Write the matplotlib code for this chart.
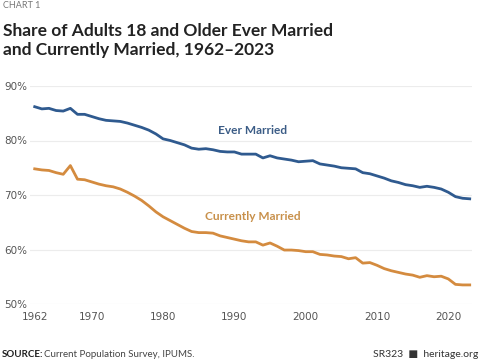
import matplotlib.pyplot as plt

years = list(range(1962, 2024))

ever_married = [
    86.2, 85.8, 85.9, 85.5, 85.4, 85.9, 84.8, 84.8, 84.4, 84.0,
    83.7, 83.6, 83.5, 83.2, 82.8, 82.4, 81.9, 81.2, 80.3, 80.0,
    79.6, 79.2, 78.6, 78.4, 78.5, 78.3, 78.0, 77.9, 77.9, 77.5,
    77.5, 77.5, 76.8, 77.2, 76.8, 76.6, 76.4, 76.1, 76.2, 76.3,
    75.7, 75.5, 75.3, 75.0, 74.9, 74.8, 74.1, 73.9, 73.5, 73.1,
    72.6, 72.3, 71.9, 71.7, 71.4, 71.6, 71.4, 71.1, 70.5, 69.7,
    69.4, 69.3,
]

currently_married = [
    74.8, 74.6, 74.5, 74.1, 73.8, 75.4, 72.9, 72.8, 72.4, 72.0,
    71.7, 71.5, 71.1, 70.5, 69.8, 69.0, 68.0, 66.9, 66.0, 65.3,
    64.6, 63.9, 63.3, 63.1, 63.1, 63.0, 62.5, 62.2, 61.9, 61.6,
    61.4, 61.4, 60.8, 61.2, 60.6, 59.9, 59.9, 59.8, 59.6, 59.6,
    59.1, 59.0, 58.8, 58.7, 58.3, 58.5, 57.5, 57.6, 57.1, 56.5,
    56.1, 55.8, 55.5, 55.3, 54.9, 55.2, 55.0, 55.1, 54.6, 53.6,
    53.5, 53.5,
]

x_ticks = [1962, 1970, 1980, 1990, 2000, 2010, 2020]
y_ticks = [50, 60, 70, 80, 90]

blue = "#2f5a8f"
orange = "#d48b3f"
fonts = ["Lato", "DejaVu Sans"]

W, H = 485, 360
fig = plt.figure(figsize=(W / 100, H / 100), dpi=100)
fig.patch.set_facecolor("white")

ax = fig.add_axes([30 / W, 1 - 304 / H, 442 / W, 218 / H])
ax.plot(years, ever_married, color=blue, lw=2.0, solid_joinstyle="round")
ax.plot(years, currently_married, color=orange, lw=2.0, solid_joinstyle="round")

ax.set_xlim(1961.34, 2023.32)
ax.set_ylim(50, 90)
ax.set_xticks(x_ticks)
ax.set_yticks(y_ticks)
ax.set_yticklabels([f"{v}%" for v in y_ticks])
ax.grid(axis="y", color="#ececec", lw=0.8)
ax.set_axisbelow(True)
for s in ax.spines.values():
    s.set_visible(False)
ax.tick_params(length=0, labelsize=7.5, labelcolor="#555555", pad=6)
for lab in ax.get_yticklabels():
    lab.set_horizontalalignment("left")
ax.tick_params(axis="y", pad=18.5)

ax.text(1992.6, 81.8, "Ever Married", color="#3b5c86", fontsize=8.6,
        fontweight="bold", ha="center", va="center", family=fonts)
ax.text(1992.6, 66.0, "Currently Married", color="#c8904a", fontsize=8.6,
        fontweight="bold", ha="center", va="center", family=fonts)

fig.text(3 / W, 1 - 5 / H, "CHART 1", fontsize=6.5, color="#777777",
         va="center", family=fonts)
fig.text(3 / W, 1 - 31 / H, "Share of Adults 18 and Older Ever Married",
         fontsize=12.5, fontweight="bold", color="#222222", va="center",
         family=fonts)
fig.text(3 / W, 1 - 50 / H, "and Currently Married, 1962\u20132023",
         fontsize=12.5, fontweight="bold", color="#222222", va="center",
         family=fonts)

fig.text(2 / W, 1 - 359 / H, "SOURCE:", fontsize=7, fontweight="bold",
         color="#222222", va="bottom", family=fonts)
fig.text(44 / W, 1 - 359 / H, "Current Population Survey, IPUMS.", fontsize=7,
         color="#444444", va="bottom", family=fonts)
fig.text(478 / W, 1 - 359 / H, "SR323  \u25a0  heritage.org", fontsize=7.5,
         color="#333333", va="bottom", ha="right", family=fonts)

fig.savefig("out.png", dpi=100)
